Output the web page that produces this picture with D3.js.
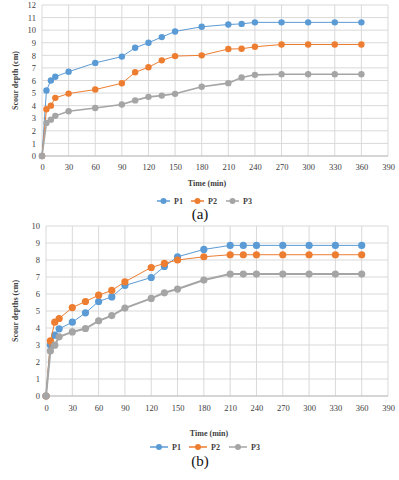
<!DOCTYPE html>
<html>
  <head>
    <meta charset="utf-8">
    <script src="https://d3js.org/d3.v7.min.js"></script>
    <style>
      body { margin: 0; background: #fff; }
      svg { display: block; font-family: "Liberation Serif", "DejaVu Serif", serif; }
      .grid line { stroke: #d9d9d9; stroke-width: 1; }
      .tick text { font-size: 8.5px; fill: #404040; font-family: "Liberation Serif", serif; }
    </style>
  </head>
  <body>
    <svg id="chart" width="399" height="480"></svg>
    <script>
      const seriesNames = ["P1", "P2", "P3"]
      const colors = ["#5b9bd5", "#ed7d31", "#a5a5a5"]

      // chart (a)
      const timeA = [0, 5, 10, 15, 30, 60, 90, 105, 120, 135, 150, 180, 210, 225, 240, 270, 300, 330, 360]
      const p1A = [0, 5.2, 6.0, 6.3, 6.7, 7.4, 7.9, 8.6, 9.0, 9.45, 9.9, 10.27, 10.45, 10.5, 10.62, 10.62, 10.62, 10.62, 10.62]
      const p2A = [0, 3.72, 4.0, 4.62, 4.96, 5.28, 5.78, 6.65, 7.05, 7.6, 7.94, 8.0, 8.5, 8.52, 8.68, 8.86, 8.86, 8.86, 8.86]
      const p3A = [0, 2.63, 2.89, 3.19, 3.56, 3.82, 4.09, 4.42, 4.7, 4.8, 4.94, 5.5, 5.79, 6.24, 6.45, 6.5, 6.5, 6.5, 6.5]

      // chart (b)
      const timeB = [0, 5, 10, 15, 30, 45, 60, 75, 90, 120, 135, 150, 180, 210, 225, 240, 270, 300, 330, 360]
      const p1B = [0, 3.0, 3.58, 3.95, 4.34, 4.89, 5.56, 5.83, 6.5, 6.97, 7.62, 8.19, 8.62, 8.86, 8.86, 8.86, 8.86, 8.86, 8.86, 8.86]
      const p2B = [0, 3.24, 4.34, 4.56, 5.2, 5.56, 5.93, 6.21, 6.72, 7.56, 7.8, 8.0, 8.19, 8.31, 8.31, 8.31, 8.31, 8.31, 8.31, 8.31]
      const p3B = [0, 2.65, 2.99, 3.48, 3.77, 3.97, 4.42, 4.73, 5.17, 5.74, 6.07, 6.29, 6.82, 7.17, 7.17, 7.17, 7.17, 7.17, 7.17, 7.17]

      const xTicks = d3.range(0, 391, 30)

      const svg = d3.select('#chart')

      function drawChart(opt) {
        const x = d3.scaleLinear().domain([0, 390]).range([opt.left, opt.right])
        const y = d3.scaleLinear().domain([0, opt.ymax]).range([opt.bottom, opt.top])
        const g = svg.append('g')

        // gridlines
        g.append('g').attr('class', 'grid')
          .selectAll('line.v').data(xTicks).join('line')
          .attr('x1', d => x(d)).attr('x2', d => x(d))
          .attr('y1', opt.top).attr('y2', opt.bottom)
        g.append('g').attr('class', 'grid')
          .selectAll('line.h').data(d3.range(0, opt.ymax + 1)).join('line')
          .attr('x1', opt.left).attr('x2', opt.right)
          .attr('y1', d => y(d)).attr('y2', d => y(d))

        // axes (no domain line, labels only)
        const xAxis = g.append('g').attr('transform', `translate(0,${opt.bottom})`)
          .call(d3.axisBottom(x).tickValues(xTicks).tickSize(0).tickPadding(opt.xpad))
        xAxis.select('.domain').remove()
        const yAxis = g.append('g').attr('transform', `translate(${opt.left},0)`)
          .call(d3.axisLeft(y).ticks(opt.ymax).tickSize(0).tickPadding(6))
        yAxis.select('.domain').remove()
        g.append('line').attr('x1', opt.left).attr('x2', opt.right)
          .attr('y1', opt.bottom).attr('y2', opt.bottom).attr('stroke', '#bfbfbf')

        const line = d3.line().x((d, i) => x(opt.time[i])).y(d => y(d))
        opt.series.forEach((s, k) => {
          g.append('path').datum(s)
            .attr('fill', 'none').attr('stroke', colors[k]).attr('stroke-width', opt.lw[k])
            .attr('d', line)
          g.append('g').selectAll('circle').data(s).join('circle')
            .attr('cx', (d, i) => x(opt.time[i])).attr('cy', d => y(d))
            .attr('r', opt.r).attr('fill', colors[k])
        })

        // axis titles
        g.append('text').attr('x', (opt.left + opt.right) / 2 - 8).attr('y', opt.xtitleY)
          .attr('text-anchor', 'middle').attr('font-size', 8).attr('font-weight', 'bold')
          .attr('fill', '#404040').text('Time  (min)')
        g.append('text')
          .attr('transform', `translate(18,${(opt.top + opt.bottom) / 2}) rotate(-90)`)
          .attr('text-anchor', 'middle').attr('font-size', 8).attr('font-weight', 'bold')
          .attr('fill', '#404040').text(opt.ytitle)

        // legend
        const leg = g.append('g').attr('transform', `translate(0,${opt.legY})`)
        opt.legX.forEach((lx, k) => {
          leg.append('line').attr('x1', lx).attr('x2', lx + opt.legLen)
            .attr('y1', 0).attr('y2', 0).attr('stroke', colors[k]).attr('stroke-width', 1.5)
          leg.append('circle').attr('cx', lx + opt.legLen / 2).attr('cy', 0).attr('r', 3)
            .attr('fill', colors[k])
          leg.append('text').attr('x', lx + opt.legLen + 4).attr('y', 3)
            .attr('font-size', 8).attr('font-weight', 'bold').attr('fill', '#404040')
            .text(seriesNames[k])
        })

        g.append('text').attr('x', 200).attr('y', opt.labelY).attr('text-anchor', 'middle')
          .attr('font-size', 15).attr('fill', '#111').text(opt.label)
      }

      drawChart({
        left: 42, right: 388, top: 5, bottom: 156, ymax: 12,
        time: timeA, series: [p1A, p2A, p3A], lw: [1, 1, 1.6], r: 3.2,
        xpad: 8, xtitleY: 186, ytitle: 'Scour depth  (cm)',
        legY: 201, legX: [157, 191, 226], legLen: 13,
        label: '(a)', labelY: 219
      })

      drawChart({
        left: 46, right: 388, top: 226, bottom: 396, ymax: 10,
        time: timeB, series: [p1B, p2B, p3B], lw: [1, 1, 2], r: 3.6,
        xpad: 9, xtitleY: 436, ytitle: 'Scour depths  (cm)',
        legY: 447, legX: [150, 189, 229], legLen: 18,
        label: '(b)', labelY: 466
      })
    </script>
  </body>
</html>
